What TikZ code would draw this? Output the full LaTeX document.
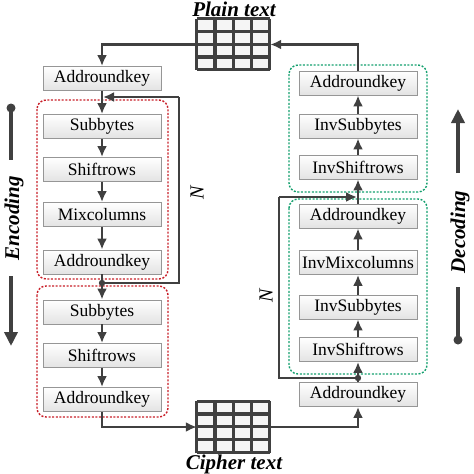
\documentclass[tikz,border=0pt]{standalone}
\usepackage{fontspec}
\setmainfont{Liberation Serif}
\usetikzlibrary{arrows.meta}
\definecolor{linegray}{RGB}{64,64,64}
\definecolor{boxline}{RGB}{150,150,150}
\definecolor{encred}{RGB}{200,30,40}
\definecolor{decgreen}{RGB}{20,160,110}
\begin{document}
\begin{tikzpicture}[x=1pt,y=-1pt,
    stage/.style={draw=boxline,line width=0.9pt,top color=white,bottom color=gray!22,
      minimum width=118pt,minimum height=24pt,inner sep=0pt,
      font=\fontsize{17.5}{17.5}\selectfont},
    flow/.style={draw=linegray,line width=2.4pt,-{Latex[length=11pt,width=10pt]}},
    loopline/.style={draw=linegray,line width=2.4pt},
    redbox/.style={draw=encred,line width=1.4pt,dash pattern=on 2pt off 1.6pt,rounded corners=9pt},
    greenbox/.style={draw=decgreen,line width=1.4pt,dash pattern=on 2pt off 1.6pt,rounded corners=9pt},
    gridbox/.style={inner sep=0pt,minimum width=73pt,minimum height=51pt,fill=gray!8},
    gridline/.style={draw=linegray,line width=3.2pt,line cap=square},
    title/.style={font=\fontsize{21}{21}\selectfont\bfseries\itshape},
    side/.style={font=\fontsize{21}{21}\selectfont\bfseries\itshape,rotate=90},
    rounds/.style={font=\fontsize{20}{20}\selectfont\itshape,rotate=90},
    bigarrow/.style={draw=linegray,line width=4pt}]
  \useasboundingbox (0,0) rectangle (474,474);

  \draw[redbox] (37,100) rectangle (168,279);
  \draw[redbox] (37,286) rectangle (168,417);
  \draw[greenbox] (289,65) rectangle (427,192);
  \draw[greenbox] (289,199) rectangle (427,374);

  \node[gridbox] (plain) at (233.5,44.5) {};
  \node[gridbox] (cipher) at (233.5,427) {};
  \foreach \g in {plain,cipher} {
    \foreach \k in {0,...,4} {
      \draw[gridline] ([xshift=\k*18.25pt]\g.north west) -- ([xshift=\k*18.25pt]\g.south west);
      \draw[gridline] ([yshift=-\k*12.75pt]\g.north west) -- ([yshift=-\k*12.75pt]\g.north east);
    }
  }
  \node[title] (plainlbl) at (234,9) {Plain text};
  \node[title] (cipherlbl) at (234,464) {Cipher text};

  \node[stage] (enc1) at (102,78.5) {Addroundkey};
  \node[stage] (enc2) at (102,126.5) {Subbytes};
  \node[stage] (enc3) at (102,169.5) {Shiftrows};
  \node[stage] (enc4) at (102,214.5) {Mixcolumns};
  \node[stage] (enc5) at (102,262) {Addroundkey};
  \node[stage] (enc6) at (102,312) {Subbytes};
  \node[stage] (enc7) at (102,355.5) {Shiftrows};
  \node[stage] (enc8) at (102,399.5) {Addroundkey};

  \node[stage] (dec1) at (358,83) {Addroundkey};
  \node[stage] (dec2) at (358,126) {InvSubbytes};
  \node[stage] (dec3) at (358,167) {InvShiftrows};
  \node[stage] (dec4) at (358,216) {Addroundkey};
  \node[stage] (dec5) at (358,262.5) {InvMixcolumns};
  \node[stage] (dec6) at (358,307) {InvSubbytes};
  \node[stage] (dec7) at (358,349.5) {InvShiftrows};
  \node[stage] (dec8) at (358,394.5) {Addroundkey};

  \foreach \a/\b in {1/2,2/3,3/4,4/5,5/6,6/7,7/8}
    \draw[flow] (enc\a) -- (enc\b);
  \foreach \a/\b in {8/7,7/6,6/5,5/4,4/3,3/2,2/1}
    \draw[flow] (dec\a) -- (dec\b);

  \draw[flow] (plain.west) -| (enc1.north);
  \draw[flow] (dec1.north) |- (plain.east);
  \draw[flow] (enc8.south) |- (cipher.west);
  \draw[flow] (cipher.east) -| (dec8.south);

  \coordinate (encjoin) at (102,283);
  \coordinate (encback) at (179,97);
  \coordinate (encin) at (103,97);
  \fill[linegray] (encjoin) circle (3.2pt);
  \draw[loopline] (encjoin) -| (encback);
  \draw[flow] (encback) -- (encin);
  \node[rounds] (encN) at (197,193) {N};

  \coordinate (decjoin) at (358,378);
  \coordinate (decback) at (279,197);
  \coordinate (decin) at (357,197);
  \fill[linegray] (decjoin) circle (3.2pt);
  \draw[loopline] (decjoin) -| (decback);
  \draw[flow] (decback) -- (decin);
  \node[rounds] (decN) at (266,296) {N};

  \node[side] (enclbl) at (14,218) {Encoding};
  \coordinate (enctop) at (11,108);
  \coordinate (encmid) at (11,160);
  \coordinate (encstart) at (11,276);
  \coordinate (encend) at (11,346);
  \fill[linegray] (enctop) circle (4.5pt);
  \draw[bigarrow] (enctop) -- (encmid);
  \draw[bigarrow,-{Triangle[length=14pt,width=13pt]}] (encstart) -- (encend);

  \node[side] (declbl) at (460,232) {Decoding};
  \coordinate (decstart) at (458,173);
  \coordinate (decend) at (458,109);
  \coordinate (decmid) at (458,287);
  \coordinate (decbot) at (458,340);
  \draw[bigarrow,-{Triangle[length=14pt,width=13pt]}] (decstart) -- (decend);
  \draw[bigarrow] (decmid) -- (decbot);
  \fill[linegray] (decbot) circle (4.5pt);
\end{tikzpicture}
\end{document}
